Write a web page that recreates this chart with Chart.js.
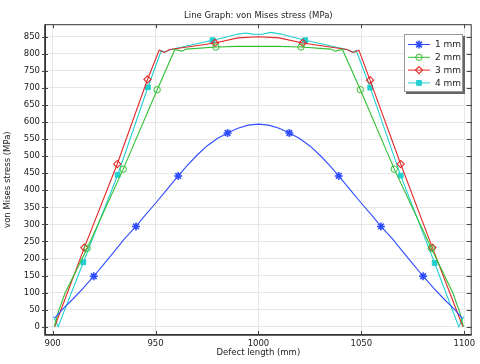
<!DOCTYPE html>
<html>
<head>
<meta charset="utf-8">
<script src="https://cdn.jsdelivr.net/npm/chart.js@4.4.0/dist/chart.umd.min.js"></script>
<style>
  html, body { margin: 0; padding: 0; background: #fff; }
  #wrap { width: 480px; height: 364px; }
</style>
</head>
<body>
<div id="wrap"><canvas id="c" width="480" height="364"></canvas></div>
<script>
// values (defect length in mm, stress in MPa)
const xTicks = [900, 950, 1000, 1050, 1100];
const yTicks = [0, 50, 100, 150, 200, 250, 300, 350, 400, 450, 500, 550, 600, 650, 700, 750, 800, 850];
const seriesNames = ['1 mm', '2 mm', '3 mm', '4 mm'];

const x1 = [901, 905, 910, 915, 920, 925, 930, 935, 940.5, 945, 950, 955, 961, 965, 970, 975, 980, 985, 990, 995, 1000,
            1005, 1010, 1015, 1020, 1025, 1030, 1035, 1039, 1045, 1050, 1055, 1059.5, 1065, 1070, 1075, 1080, 1085, 1090, 1095, 1099];
const y1 = [25, 52, 82, 114, 148, 184, 221, 258, 294, 327, 362, 398, 442, 470, 502, 530, 552, 568, 582, 591, 594,
            591, 582, 568, 552, 530, 502, 470, 442, 398, 362, 327, 294, 258, 221, 184, 148, 114, 82, 52, 25];
const marks1 = [920, 940.5, 961, 985, 1015, 1039, 1059.5, 1080];

const x2 = [900.8, 902.7, 906, 916.8, 934.3, 950.8, 959.4, 962.7, 965, 979.3, 990, 1000, 1010, 1020.7, 1035, 1037.5, 1040.8,
            1049.5, 1066, 1084, 1094.5, 1097.8, 1099.6];
const y2 = [0, 42, 98, 230, 462, 695, 813, 808, 814, 820, 822, 822, 822, 820, 814, 808, 813, 695, 462, 230, 98, 42, 0];
const marks2 = [916.8, 934.3, 950.8, 979.3, 1020.7, 1049.5, 1066, 1084];

const x3 = [901, 915.4, 931.4, 946.1, 951.8, 954.1, 957, 978.9, 990, 1000, 1010, 1021.5, 1043, 1046, 1048.8,
            1054.2, 1069.1, 1084.5, 1099.3];
const y3 = [0, 232, 477, 725, 811, 804, 813, 832, 847, 850, 847, 832, 813, 804, 811, 723, 477, 232, 0];
const marks3 = [915.4, 931.4, 946.1, 978.9, 1021.5, 1054.2, 1069.1, 1084.5];

const x4 = [900.4, 902.7, 914.9, 931.6, 946.3, 952.8, 954.5, 957, 977.7, 985, 990, 994, 997, 1001, 1006, 1011, 1016, 1022.7,
            1043.5, 1045.5, 1047.5, 1054.3, 1069.1, 1085.6, 1097.3, 1099.8];
const y4 = [30, 0, 189, 445, 702, 810, 805, 812, 840, 850, 858, 861, 858, 857, 863, 858, 850, 840, 812, 805, 810, 701, 443, 187, 0, 30];
const marks4 = [914.9, 931.6, 946.3, 977.7, 1022.7, 1054.3, 1069.1, 1085.6];

const FONT = "'DejaVu Sans', sans-serif";
const colors = ['#2f4dff', '#33bf33', '#e02828', '#22cfcf'];
const styles = [
    { pointStyle: 'star', radius: 4, fill: 'rgba(0,0,0,0)', bw: 1.6 },
    { pointStyle: 'circle', radius: 3.2, fill: 'rgba(0,0,0,0)', bw: 1 },
    { pointStyle: 'rectRot', radius: 3.6, fill: 'rgba(0,0,0,0)', bw: 1.1 },
    { pointStyle: 'rect', radius: 3.4, fill: colors[3], bw: 1 }
];

const toPoints = (xs, ys) => xs.map((x, i) => ({ x: x, y: ys[i] }));

function makeSet(idx, xs, ys, marks) {
    const st = styles[idx];
    return {
        label: seriesNames[idx],
        data: toPoints(xs, ys),
        showLine: true,
        borderColor: colors[idx],
        borderWidth: 1.1,
        tension: 0,
        pointStyle: st.pointStyle,
        pointBackgroundColor: st.fill,
        pointBorderColor: colors[idx],
        pointBorderWidth: st.bw,
        pointRadius: ctx => (ctx.raw && marks.includes(ctx.raw.x)) ? st.radius : 0
    };
}

// frame, inward ticks and the boxed legend
const extras = {
    id: 'extras',
    afterDraw(chart) {
        const { ctx, chartArea: a, scales } = chart;
        ctx.save();
        // frame
        ctx.strokeStyle = '#333';
        ctx.lineWidth = 1;
        ctx.strokeRect(a.left + 0.5, a.top + 0.5, a.right - a.left - 1, a.bottom - a.top - 1);
        ctx.lineWidth = 1.6;
        ctx.beginPath();
        ctx.moveTo(a.left, a.top); ctx.lineTo(a.left, a.bottom); ctx.lineTo(a.right, a.bottom);
        ctx.stroke();
        // ticks
        ctx.lineWidth = 1;
        ctx.strokeStyle = '#444';
        ctx.beginPath();
        xTicks.forEach(v => {
            const px = Math.round(scales.x.getPixelForValue(v)) + 0.5;
            ctx.moveTo(px, a.bottom); ctx.lineTo(px, a.bottom - 4);
            ctx.moveTo(px, a.top); ctx.lineTo(px, a.top + 4);
        });
        yTicks.forEach(v => {
            const py = Math.round(scales.y.getPixelForValue(v)) + 0.5;
            ctx.moveTo(a.left - 3, py); ctx.lineTo(a.left + 3, py);
            ctx.moveTo(a.right, py); ctx.lineTo(a.right - 5, py);
        });
        ctx.stroke();

        // legend
        const bx = 404, by = 34, bw = 59, bh = 58;
        ctx.fillStyle = '#666';
        ctx.fillRect(bx + 2, by + 2, bw, bh);
        ctx.fillStyle = '#fff';
        ctx.fillRect(bx, by, bw, bh);
        ctx.strokeStyle = '#999';
        ctx.lineWidth = 1;
        ctx.strokeRect(bx + 0.5, by + 0.5, bw - 1, bh - 1);
        ctx.font = '9px ' + FONT;
        ctx.textBaseline = 'middle';
        ctx.textAlign = 'left';
        seriesNames.forEach((name, i) => {
            const y = 44.5 + i * 12.8;
            ctx.strokeStyle = colors[i];
            ctx.lineWidth = 1;
            ctx.beginPath();
            ctx.moveTo(408, y); ctx.lineTo(430, y);
            ctx.stroke();
            ctx.fillStyle = styles[i].fill;
            ctx.lineWidth = styles[i].bw;
            Chart.helpers.drawPoint(ctx, { pointStyle: styles[i].pointStyle, radius: styles[i].radius, rotation: 0, borderWidth: styles[i].bw }, 419, y);
            ctx.fillStyle = '#222';
            ctx.fillText(name, 435, y + 0.5);
        });
        ctx.restore();
    }
};

new Chart(document.getElementById('c'), {
    type: 'scatter',
    data: {
        datasets: [
            makeSet(0, x1, y1, marks1),
            makeSet(1, x2, y2, marks2),
            makeSet(2, x3, y3, marks3),
            makeSet(3, x4, y4, marks4)
        ]
    },
    options: {
        responsive: false,
        animation: false,
        events: [],
        layout: { padding: { right: 8.3 } },
        plugins: {
            legend: { display: false },
            tooltip: { enabled: false },
            title: {
                display: true,
                text: 'Line Graph: von Mises stress (MPa)',
                fullSize: false,
                color: '#222',
                font: { family: FONT, size: 8.5, weight: 'normal' },
                padding: { top: 11, bottom: 3 }
            }
        },
        scales: {
            x: {
                type: 'linear',
                min: 896.3,
                max: 1103.6,
                afterBuildTicks: s => { s.ticks = xTicks.map(v => ({ value: v })); },
                afterFit: s => { s.height = 29; },
                grid: { color: '#e6e6e6', drawTicks: false },
                border: { display: false },
                ticks: { color: '#222', padding: 4, maxRotation: 0, font: { family: FONT, size: 8.5 }, callback: v => String(v) },
                title: {
                    display: true,
                    text: 'Defect length (mm)',
                    color: '#222',
                    font: { family: FONT, size: 8.5 },
                    padding: { top: 0, bottom: 6 }
                }
            },
            y: {
                type: 'linear',
                min: -24.3,
                max: 887,
                afterBuildTicks: s => { s.ticks = yTicks.map(v => ({ value: v })); },
                afterFit: s => { s.width = 45; },
                grid: { color: '#e6e6e6', drawTicks: false },
                border: { display: false },
                ticks: { color: '#222', padding: 5, font: { family: FONT, size: 8.5 }, callback: v => String(v) },
                title: {
                    display: true,
                    text: 'von Mises stress (MPa)',
                    color: '#222',
                    font: { family: FONT, size: 8.5 },
                    padding: { top: 3, bottom: 0 }
                }
            }
        }
    },
    plugins: [extras]
});
</script>
</body>
</html>
